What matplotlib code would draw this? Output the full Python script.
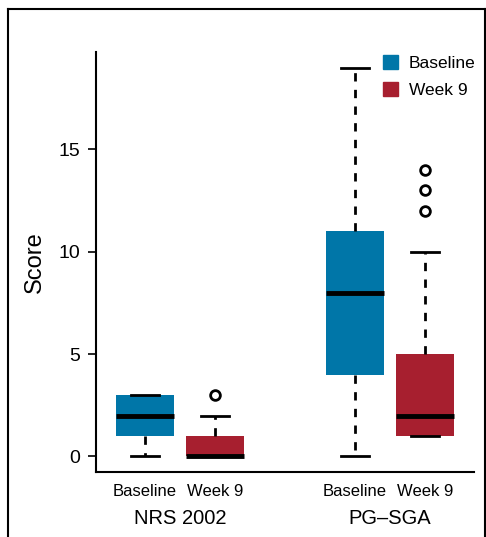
import matplotlib
matplotlib.use("Agg")
import matplotlib.pyplot as plt
from matplotlib.patches import Patch
from matplotlib.lines import Line2D

plt.rcParams['font.family'] = ['Liberation Sans', 'DejaVu Sans']

# Data
groups = ["NRS 2002", "PG\u2013SGA"]
timepoints = ["Baseline", "Week 9"]
positions = [1, 2, 4, 5]
whislo = [0, 0, 0, 1]
q1 = [1, 0, 4, 1]
med = [2, 0, 8, 2]
q3 = [3, 1, 11, 5]
whishi = [3, 2, 19, 10]
fliers = [[], [3], [], [12, 13, 14]]
yticks = [0, 5, 10, 15]

colors = ["#0076a8", "#a71f2f", "#0076a8", "#a71f2f"]

fig = plt.figure(figsize=(4.86, 5.37), dpi=100)
ax = fig.add_axes([96/486, 1-472/537, (474-96)/486, (472-52)/537])

stats = []
for i in range(4):
    stats.append(dict(med=med[i], q1=q1[i], q3=q3[i], whislo=whislo[i],
                      whishi=whishi[i], fliers=fliers[i]))

bp = ax.bxp(stats, positions=positions, widths=0.82, patch_artist=True,
            showfliers=True,
            boxprops=dict(linewidth=0),
            medianprops=dict(color="black", linewidth=3.5, solid_capstyle="butt"),
            whiskerprops=dict(color="black", linewidth=2, linestyle=(0, (3, 3))),
            capprops=dict(color="black", linewidth=2),
            capwidths=0.41,
            flierprops=dict(marker="o", markersize=7, markerfacecolor="white",
                            markeredgecolor="black", markeredgewidth=2))
for patch, c in zip(bp["boxes"], colors):
    patch.set_facecolor(c)
    patch.set_edgecolor(c)

ax.set_xlim(0.3, 5.7)
ax.set_ylim(-0.76, 19.76)
ax.set_yticks(yticks)
ax.set_yticklabels([str(t) for t in yticks], fontsize=14)
ax.tick_params(axis='y', length=6, width=1.2, pad=5.5)
ax.set_xticks(positions)
ax.set_xticklabels(timepoints * 2, fontsize=12)
ax.tick_params(axis='x', length=0, pad=9)
for s in ["top", "right"]:
    ax.spines[s].set_visible(False)
ax.spines["left"].set_linewidth(1.5)
ax.spines["bottom"].set_linewidth(1.5)
ax.set_ylabel("Score", fontsize=17, labelpad=9)

for g, x in zip(groups, [1.5, 4.5]):
    ax.text(x, -0.11, g, transform=ax.get_xaxis_transform(), ha="center",
            va="center", fontsize=14.5)

handles = [Patch(facecolor=colors[0], edgecolor=colors[0]),
           Patch(facecolor=colors[1], edgecolor=colors[1])]
leg = ax.legend(handles, timepoints, loc="upper right", frameon=False,
                bbox_to_anchor=(1.045, 1.03), fontsize=12.5, handlelength=0.9,
                handleheight=0.9, handletextpad=0.6, labelspacing=0.6)

# outer frame
fig.add_artist(Line2D([8/486, 8/486], [0, 1-9/537], color="black", lw=1.5, transform=fig.transFigure))
fig.add_artist(Line2D([8/486, 1], [1-9/537, 1-9/537], color="black", lw=1.5, transform=fig.transFigure))
fig.add_artist(Line2D([485/486, 485/486], [0, 1-9/537], color="black", lw=1.5, transform=fig.transFigure))

fig.savefig("out.png", dpi=100)
